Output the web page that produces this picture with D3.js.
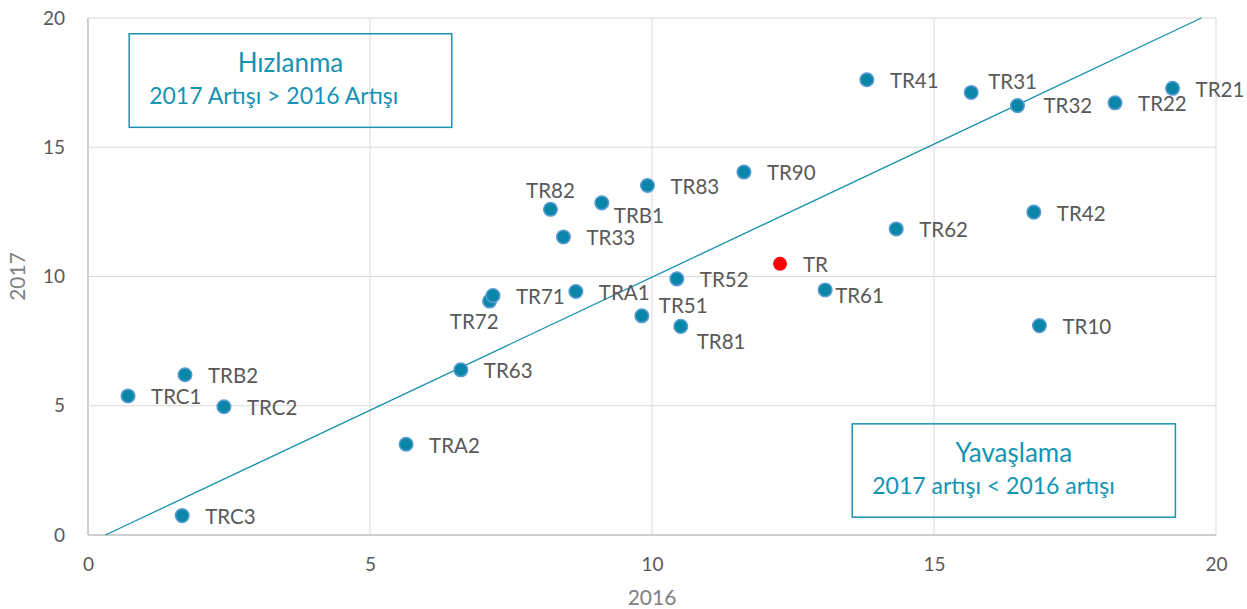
<!DOCTYPE html>
<html>
<head>
<meta charset="utf-8">
<script src="https://cdn.jsdelivr.net/npm/d3@7"></script>
<style>
  html, body { margin: 0; padding: 0; background: #fff; }
  svg { display: block; font-family: Lato, "Open Sans", sans-serif; }
</style>
</head>
<body>
<div id="chart"></div>
<script>
// regions (NUTS-2), growth 2016 vs 2017
const regions = ['TRC1', 'TRB2', 'TRC2', 'TRC3', 'TRA2', 'TR63', 'TR72', 'TR71', 'TRA1', 'TR33',
                 'TR82', 'TRB1', 'TR83', 'TR90', 'TR41', 'TR51', 'TR52', 'TR81', 'TR', 'TR61',
                 'TR62', 'TR42', 'TR10', 'TR31', 'TR32', 'TR22', 'TR21'];
const growth2016 = [0.71, 1.72, 2.41, 1.67, 5.64, 6.61, 7.12, 7.18, 8.65, 8.43,
                    8.20, 9.11, 9.92, 11.63, 13.81, 9.82, 10.44, 10.51, 12.27, 13.07,
                    14.33, 16.77, 16.87, 15.66, 16.48, 18.21, 19.23];
const growth2017 = [5.38, 6.20, 4.96, 0.75, 3.51, 6.39, 9.05, 9.26, 9.42, 11.53,
                    12.60, 12.85, 13.52, 14.04, 17.61, 8.48, 9.91, 8.07, 10.49, 9.48,
                    11.84, 12.49, 8.10, 17.12, 16.61, 16.72, 17.28];
const xTicks = [0, 5, 10, 15, 20];
const yTicks = [0, 5, 10, 15, 20];
const trendLine = [[0.31, 0], [19.74, 20]];

// label placement tweaks (dx, dy, anchor) - default is right of the point
const labelPos = {
  TR82: [0, -19, 'middle'],
  TRB1: [12, 13, 'start'],
  TR72: [9, 21, 'end'],
  TR51: [17, -10, 'start'],
  TR81: [16, 15, 'start'],
  TR61: [10, 6, 'start'],
  TR31: [17, -11, 'start'],
  TR32: [26, 0, 'start']
};

const width = 1247, height = 609;
const margin = { top: 18, right: 31, bottom: 74, left: 88 };

const svg = d3.select('#chart').append('svg')
  .attr('width', width).attr('height', height);

const x = d3.scaleLinear().domain([0, 20]).range([margin.left, width - margin.right]);
const y = d3.scaleLinear().domain([0, 20]).range([height - margin.bottom, margin.top]);

// grid
svg.append('g').selectAll('line').data(xTicks).join('line')
  .attr('x1', d => x(d)).attr('x2', d => x(d))
  .attr('y1', y(0)).attr('y2', y(20))
  .attr('stroke', d => d === 0 ? '#bfbfbf' : '#d9d9d9').attr('stroke-width', d => d === 0 ? 1.5 : 1);
svg.append('g').selectAll('line').data(yTicks).join('line')
  .attr('y1', d => y(d)).attr('y2', d => y(d))
  .attr('x1', x(0)).attr('x2', x(20))
  .attr('stroke', d => d === 0 ? '#bfbfbf' : '#d9d9d9').attr('stroke-width', d => d === 0 ? 1.5 : 1);

// axes
const xAxis = svg.append('g').attr('transform', `translate(0,${y(0)})`)
  .call(d3.axisBottom(x).tickValues(xTicks).tickSize(0).tickPadding(23));
const yAxis = svg.append('g').attr('transform', `translate(${x(0)},0)`)
  .call(d3.axisLeft(y).tickValues(yTicks).tickSize(0).tickPadding(23));
[xAxis, yAxis].forEach(a => {
  a.select('.domain').remove();
  a.selectAll('text').attr('fill', '#595959').style('font-size', '19px')
    .style('font-family', 'Lato, sans-serif');
});

svg.append('text')
  .attr('x', x(10)).attr('y', 605)
  .attr('text-anchor', 'middle').attr('fill', '#7f7f7f').style('font-size', '21px')
  .text('2016');
svg.append('text')
  .attr('transform', `translate(25,${y(10)}) rotate(-90)`)
  .attr('text-anchor', 'middle').attr('fill', '#7f7f7f').style('font-size', '21px')
  .text('2017');

// trend / reference line
svg.append('line')
  .attr('x1', x(trendLine[0][0])).attr('y1', y(trendLine[0][1]))
  .attr('x2', x(trendLine[1][0])).attr('y2', y(trendLine[1][1]))
  .attr('stroke', '#1591ad').attr('stroke-width', 1.3);

// annotation boxes
function noteBox(x0, y0, x1, y1, title, sub, subX) {
  const g = svg.append('g');
  g.append('rect')
    .attr('x', x(x0)).attr('y', y(y0))
    .attr('width', x(x1) - x(x0)).attr('height', y(y1) - y(y0))
    .attr('fill', 'none').attr('stroke', '#1a93b1').attr('stroke-width', 1.5);
  g.append('text')
    .attr('x', (x(x0) + x(x1)) / 2).attr('y', y(y0) + 38)
    .attr('text-anchor', 'middle').attr('fill', '#1493b2').style('font-size', '26px')
    .text(title);
  g.append('text')
    .attr('x', x(x0) + subX).attr('y', y(y0) + 70)
    .attr('fill', '#1493b2').style('font-size', '23px')
    .text(sub);
}
noteBox(0.73, 19.39, 6.45, 15.77, 'Hızlanma', '2017 Artışı > 2016 Artışı', 20);
noteBox(13.55, 4.3, 19.28, 0.69, 'Yavaşlama', '2017 artışı < 2016 artışı', 20);

// points
const points = regions.map((name, i) => ({ name, v16: growth2016[i], v17: growth2017[i] }));

svg.append('g').selectAll('circle').data(points).join('circle')
  .attr('cx', d => x(d.v16)).attr('cy', d => y(d.v17))
  .attr('r', d => d.name === 'TR' ? 7 : 6.8)
  .attr('fill', d => d.name === 'TR' ? '#ff0000' : '#0a87a8')
  .attr('stroke', d => d.name === 'TR' ? 'none' : '#5b9bd5')
  .attr('stroke-width', 1.5);

svg.append('g').selectAll('text').data(points).join('text')
  .attr('x', d => x(d.v16) + (labelPos[d.name] ? labelPos[d.name][0] : 23))
  .attr('y', d => y(d.v17) + (labelPos[d.name] ? labelPos[d.name][1] : 1))
  .attr('dy', '0.36em')
  .attr('text-anchor', d => labelPos[d.name] ? labelPos[d.name][2] : 'start')
  .attr('fill', '#595959').style('font-size', '20.5px')
  .text(d => d.name);
</script>
</body>
</html>
